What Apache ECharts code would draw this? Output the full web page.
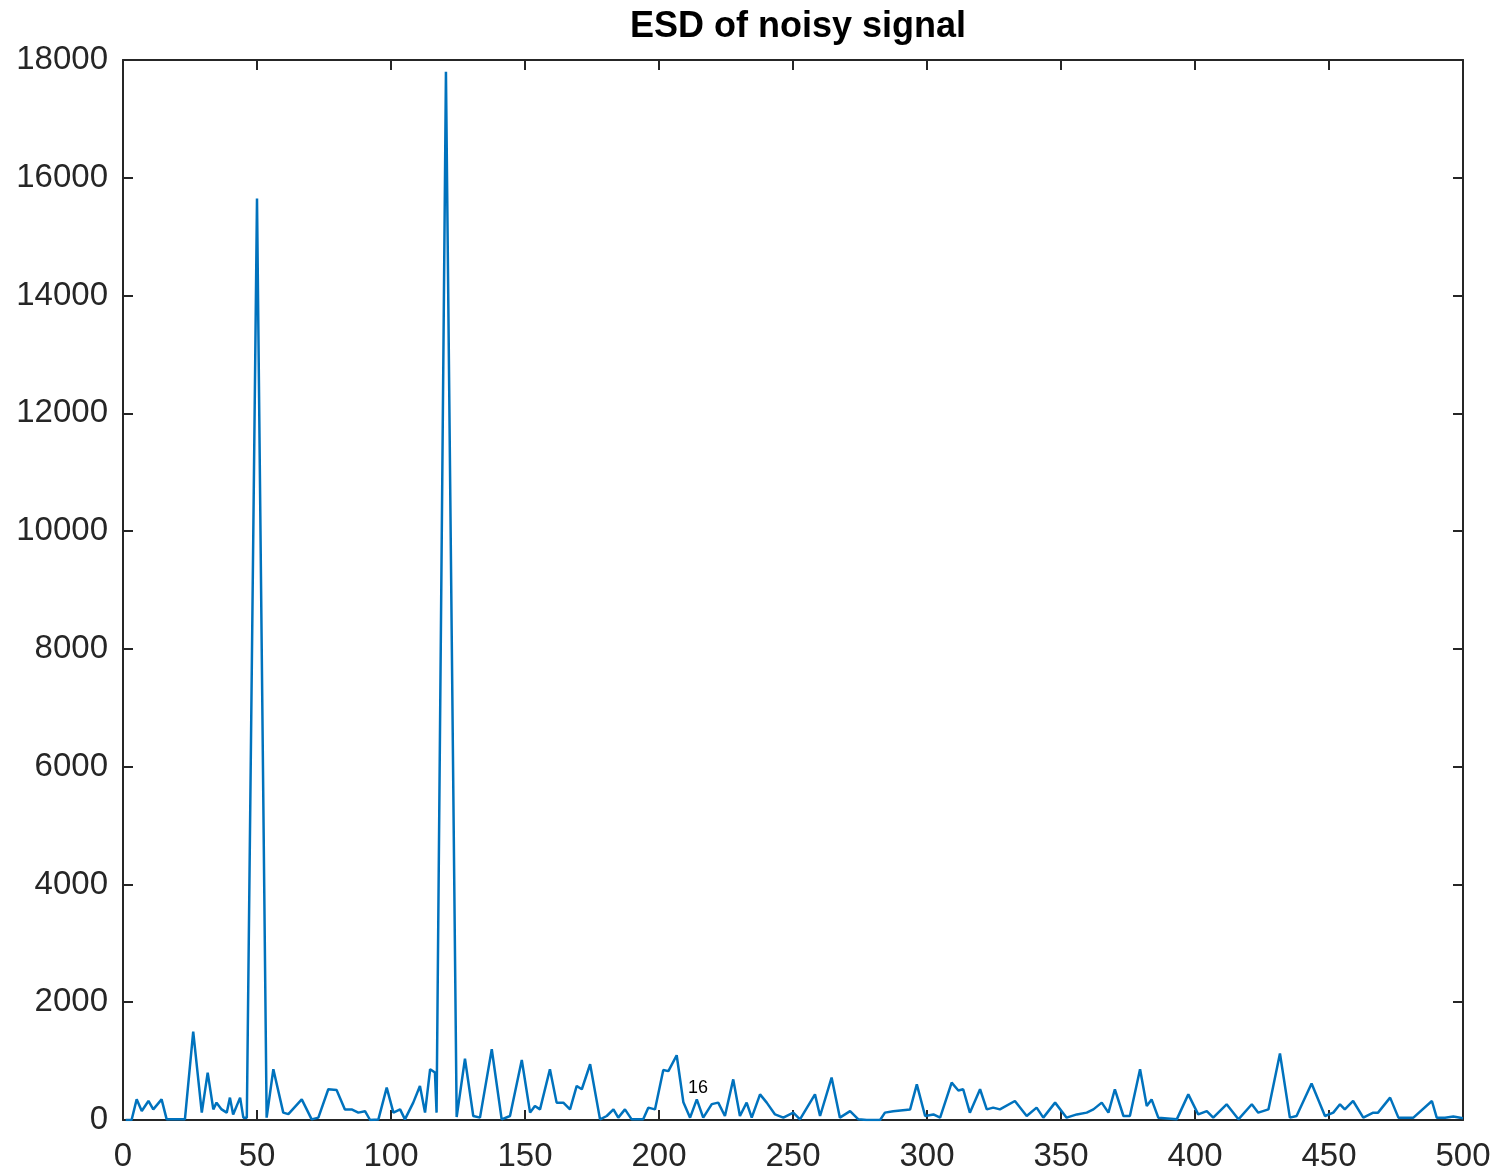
<!DOCTYPE html>
<html>
<head>
<meta charset="utf-8">
<script src="https://cdn.jsdelivr.net/npm/echarts@6/dist/echarts.min.js"></script>
<style>
html,body{margin:0;padding:0;background:#fff;}
#chart{width:1506px;height:1174px;}
</style>
</head>
<body>
<div id="chart"></div>
<script>
const titleText = 'ESD of noisy signal';
const xTicks = [0, 50, 100, 150, 200, 250, 300, 350, 400, 450, 500];
const yTicks = [0, 2000, 4000, 6000, 8000, 10000, 12000, 14000, 16000, 18000];
const stray = '16';

const freq = [
  1, 3.2, 5.1, 7, 9.5, 11.3, 14.4, 16.3, 23.1, 26.2, 29.4, 31.6, 33.7, 34.9, 36.8, 38.7, 39.9, 41.1, 43.7, 44.9, 46.2,
  50, 53.6, 56.1, 59.8, 61.7, 66.7, 70.4, 72.9, 76.6, 79.7, 82.8, 85.3, 87.8, 90.3, 92.2, 95.3, 98.4, 100.9, 103.4, 105.2,
  108.3, 110.8, 112.7, 114.6, 116.4, 117, 120.5, 124.5, 127.6, 130.7, 133.2, 137.6, 141.3, 144.4, 148.8, 151.9, 153.7,
  155.6, 159.3, 161.8, 164.3, 166.8, 169.3, 171.2, 174.3, 178, 180.5, 183, 184.8, 187.3, 189.8, 194.1, 196, 198.5, 201.6,
  203.5, 206.6, 209.1, 211.6, 214.1, 216.5, 219.7, 222.1, 224.6, 227.7, 230.2, 232.7, 234.6, 237.7, 240.2, 243.3, 246.4,
  250.1, 252.6, 258.2, 260.1, 264.4, 267.5, 271.3, 274.4, 277.5, 282.5, 284.3, 287.4, 293.7, 296.2, 299.3, 302.4, 304.9,
  309.2, 311.7, 313.5, 316, 319.8, 322.3, 324.7, 327.2, 332.8, 337.2, 340.9, 343.4, 347.8, 352.1, 355.9, 359.6, 362.1,
  365.2, 367.7, 370.1, 373.3, 375.7, 379.5, 382, 383.8, 386.3, 393.2, 397.5, 401.2, 404.4, 406.8, 411.8, 416.2, 421.2,
  423.6, 427.4, 431.7, 435.4, 437.9, 443.5, 448.5, 451.6, 454.1, 455.9, 459, 462.8, 466.5, 468.3, 472.8, 475.9, 481.5,
  488.4, 490.2, 493.3, 496.4, 500
];
const esd = [
  0, 0, 351, 153, 323, 181, 351, 11, 11, 1500, 125, 805, 180, 295, 180, 125, 380, 95, 380, 40, 40,
  15650, 40, 862, 125, 100, 351, 11, 40, 522, 510, 180, 180, 125, 150, 0, 10, 550, 125, 180, 10,
  295, 578, 125, 862, 805, 125, 17800, 50, 1040, 68, 40, 1202, 11, 68, 1020, 125, 238,
  180, 862, 295, 295, 180, 578, 522, 947, 11, 68, 180, 40, 180, 11, 11, 210, 180, 850,
  830, 1100, 300, 40, 350, 40, 270, 295, 68, 690, 68, 295, 40, 435, 295, 95, 40,
  125, 11, 435, 68, 720, 40, 150, 11, 0, 0, 125, 150, 180, 605, 68, 95, 40,
  635, 500, 522, 125, 522, 180, 210, 180, 323, 68, 210, 40, 295, 40, 95, 125, 180,
  295, 125, 522, 68, 68, 862, 238, 350, 40, 11, 435, 95, 150, 40, 267, 11, 267,
  125, 180, 1130, 40, 68, 620, 68, 125, 267, 180, 323, 40, 125, 125, 380, 40, 40,
  323, 40, 40, 60, 30
];

const chart = echarts.init(document.getElementById('chart'), null, {renderer: 'canvas'});
const axisColor = '#262626';
const fontFamily = '"Liberation Sans", Arial, Helvetica, sans-serif';
const data = freq.map((f, i) => [f, esd[i]]);
const plain = v => String(v);

const axisCommon = {
  type: 'value',
  min: 0,
  axisLine: {show: true, onZero: false, lineStyle: {color: axisColor, width: 2}},
  axisTick: {show: true, inside: true, length: 10, lineStyle: {color: axisColor, width: 2}},
  splitLine: {show: false}
};

chart.setOption({
  animation: false,
  backgroundColor: '#fff',
  title: {
    text: titleText,
    left: 793,
    top: 4,
    textAlign: 'center',
    textStyle: {fontFamily: fontFamily, fontWeight: 'bold', fontSize: 36, color: '#000'}
  },
  grid: {left: 123, right: 43, top: 60, bottom: 54, containLabel: false},
  xAxis: [
    Object.assign({}, axisCommon, {
      position: 'bottom', max: xTicks[xTicks.length - 1], interval: xTicks[1] - xTicks[0],
      axisLabel: {show: true, margin: 20, color: axisColor, fontSize: 33, fontFamily: fontFamily, formatter: plain}
    }),
    Object.assign({}, axisCommon, {
      position: 'top', max: xTicks[xTicks.length - 1], interval: xTicks[1] - xTicks[0],
      axisLabel: {show: false}
    })
  ],
  yAxis: [
    Object.assign({}, axisCommon, {
      position: 'left', max: yTicks[yTicks.length - 1], interval: yTicks[1] - yTicks[0],
      axisLabel: {show: true, margin: 15, color: axisColor, fontSize: 33, fontFamily: fontFamily, formatter: plain}
    }),
    Object.assign({}, axisCommon, {
      position: 'right', max: yTicks[yTicks.length - 1], interval: yTicks[1] - yTicks[0],
      axisLabel: {show: false}
    })
  ],
  series: [{
    type: 'line',
    xAxisIndex: 0,
    yAxisIndex: 0,
    data: data,
    showSymbol: false,
    symbol: 'none',
    lineStyle: {color: '#0072BD', width: 2.5},
    z: 1
  }],
  graphic: [{
    type: 'text',
    left: 688,
    top: 1079,
    style: {text: stray, fontSize: 18, fontFamily: fontFamily, fill: '#000'},
    z: 10
  }]
});
</script>
</body>
</html>
